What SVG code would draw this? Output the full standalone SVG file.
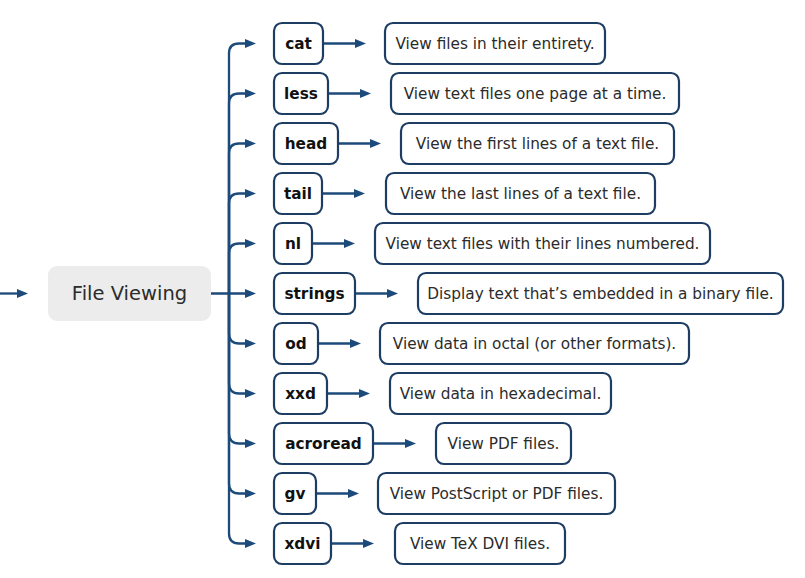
<svg xmlns="http://www.w3.org/2000/svg" width="805" height="578" viewBox="0 0 805 578">
<defs>
<marker id="ah" viewBox="0 0 11 9" refX="1" refY="4.5" markerWidth="11" markerHeight="9" markerUnits="userSpaceOnUse" orient="auto">
<path d="M0,0 L11,4.5 L0,9 z" fill="#1c4a7a"/>
</marker>
<style>
.cn{fill:none;stroke:#1c4a7a;stroke-width:2.3;marker-end:url(#ah)}
.nb{fill:#fff;stroke:#1e3d63;stroke-width:2.2}
.db{fill:#fff;stroke:#1e3d63;stroke-width:2.2}
.nt{font-family:"DejaVu Sans",Verdana,sans-serif;font-weight:bold;font-size:15.3px;fill:#111;text-anchor:middle;dominant-baseline:central}
.dt{font-family:"DejaVu Sans",Verdana,sans-serif;font-size:15.3px;fill:#2b2b2b;text-anchor:middle;dominant-baseline:central}
</style>
</defs>
<rect width="805" height="578" fill="#fff"/>
<g id="connectors">
<path class="cn" d="M0,293.5 L18,293.5"/>
<path class="cn" d="M211,293.5 L246,293.5"/>
<path class="cn" d="M229,293.5 L229,53.5 Q229,43.5 239,43.5 L246,43.5"/>
<path class="cn" d="M229,293.5 L229,103.5 Q229,93.5 239,93.5 L246,93.5"/>
<path class="cn" d="M229,293.5 L229,153.5 Q229,143.5 239,143.5 L246,143.5"/>
<path class="cn" d="M229,293.5 L229,203.5 Q229,193.5 239,193.5 L246,193.5"/>
<path class="cn" d="M229,293.5 L229,253.5 Q229,243.5 239,243.5 L246,243.5"/>
<path class="cn" d="M229,293.5 L229,333.5 Q229,343.5 239,343.5 L246,343.5"/>
<path class="cn" d="M229,293.5 L229,383.5 Q229,393.5 239,393.5 L246,393.5"/>
<path class="cn" d="M229,293.5 L229,433.5 Q229,443.5 239,443.5 L246,443.5"/>
<path class="cn" d="M229,293.5 L229,483.5 Q229,493.5 239,493.5 L246,493.5"/>
<path class="cn" d="M229,293.5 L229,533.5 Q229,543.5 239,543.5 L246,543.5"/>
<path class="cn" d="M323,43.5 L356,43.5"/>
<path class="cn" d="M328,93.5 L361,93.5"/>
<path class="cn" d="M338,143.5 L371,143.5"/>
<path class="cn" d="M322,193.5 L355,193.5"/>
<path class="cn" d="M312,243.5 L345,243.5"/>
<path class="cn" d="M355,293.5 L388,293.5"/>
<path class="cn" d="M318,343.5 L351,343.5"/>
<path class="cn" d="M327,393.5 L360,393.5"/>
<path class="cn" d="M373,443.5 L406,443.5"/>
<path class="cn" d="M316,493.5 L349,493.5"/>
<path class="cn" d="M331,543.5 L364,543.5"/>
</g>
<g id="root">
<rect x="48" y="266" width="163" height="55" rx="9" fill="#ececec"/>
<text x="129.5" y="293.5" font-family="DejaVu Sans,Verdana,sans-serif" font-size="19.5px" fill="#2b2b2b" text-anchor="middle" dominant-baseline="central">File Viewing</text>
</g>
<g id="cat"><rect class="nb" x="274" y="23" width="49" height="41" rx="8"/><text class="nt" x="298.5" y="43.5">cat</text></g>
<g id="cat-desc"><rect class="db" x="385" y="23" width="220" height="41" rx="8"/><text class="dt" x="495" y="43.5">View files in their entirety.</text></g>
<g id="less"><rect class="nb" x="274" y="73" width="54" height="41" rx="8"/><text class="nt" x="301" y="93.5">less</text></g>
<g id="less-desc"><rect class="db" x="391" y="73" width="288" height="41" rx="8"/><text class="dt" x="535" y="93.5">View text files one page at a time.</text></g>
<g id="head"><rect class="nb" x="274" y="123" width="64" height="41" rx="8"/><text class="nt" x="306" y="143.5">head</text></g>
<g id="head-desc"><rect class="db" x="401" y="123" width="273" height="41" rx="8"/><text class="dt" x="537.5" y="143.5">View the first lines of a text file.</text></g>
<g id="tail"><rect class="nb" x="274" y="173" width="48" height="41" rx="8"/><text class="nt" x="298" y="193.5">tail</text></g>
<g id="tail-desc"><rect class="db" x="386" y="173" width="269" height="41" rx="8"/><text class="dt" x="520.5" y="193.5">View the last lines of a text file.</text></g>
<g id="nl"><rect class="nb" x="274" y="223" width="38" height="41" rx="8"/><text class="nt" x="293" y="243.5">nl</text></g>
<g id="nl-desc"><rect class="db" x="375" y="223" width="335" height="41" rx="8"/><text class="dt" x="542.5" y="243.5">View text files with their lines numbered.</text></g>
<g id="strings"><rect class="nb" x="274" y="273" width="81" height="41" rx="8"/><text class="nt" x="314.5" y="293.5">strings</text></g>
<g id="strings-desc"><rect class="db" x="418" y="273" width="365" height="41" rx="8"/><text class="dt" x="600.5" y="293.5">Display text that’s embedded in a binary file.</text></g>
<g id="od"><rect class="nb" x="274" y="323" width="44" height="41" rx="8"/><text class="nt" x="296" y="343.5">od</text></g>
<g id="od-desc"><rect class="db" x="380" y="323" width="309" height="41" rx="8"/><text class="dt" x="534.5" y="343.5">View data in octal (or other formats).</text></g>
<g id="xxd"><rect class="nb" x="274" y="373" width="53" height="41" rx="8"/><text class="nt" x="300.5" y="393.5">xxd</text></g>
<g id="xxd-desc"><rect class="db" x="390" y="373" width="221" height="41" rx="8"/><text class="dt" x="500.5" y="393.5">View data in hexadecimal.</text></g>
<g id="acroread"><rect class="nb" x="274" y="423" width="99" height="41" rx="8"/><text class="nt" x="323.5" y="443.5">acroread</text></g>
<g id="acroread-desc"><rect class="db" x="436" y="423" width="135" height="41" rx="8"/><text class="dt" x="503.5" y="443.5">View PDF files.</text></g>
<g id="gv"><rect class="nb" x="274" y="473" width="42" height="41" rx="8"/><text class="nt" x="295" y="493.5">gv</text></g>
<g id="gv-desc"><rect class="db" x="378" y="473" width="237" height="41" rx="8"/><text class="dt" x="496.5" y="493.5">View PostScript or PDF files.</text></g>
<g id="xdvi"><rect class="nb" x="274" y="523" width="57" height="41" rx="8"/><text class="nt" x="302.5" y="543.5">xdvi</text></g>
<g id="xdvi-desc"><rect class="db" x="395" y="523" width="170" height="41" rx="8"/><text class="dt" x="480" y="543.5">View TeX DVI files.</text></g>
</svg>
